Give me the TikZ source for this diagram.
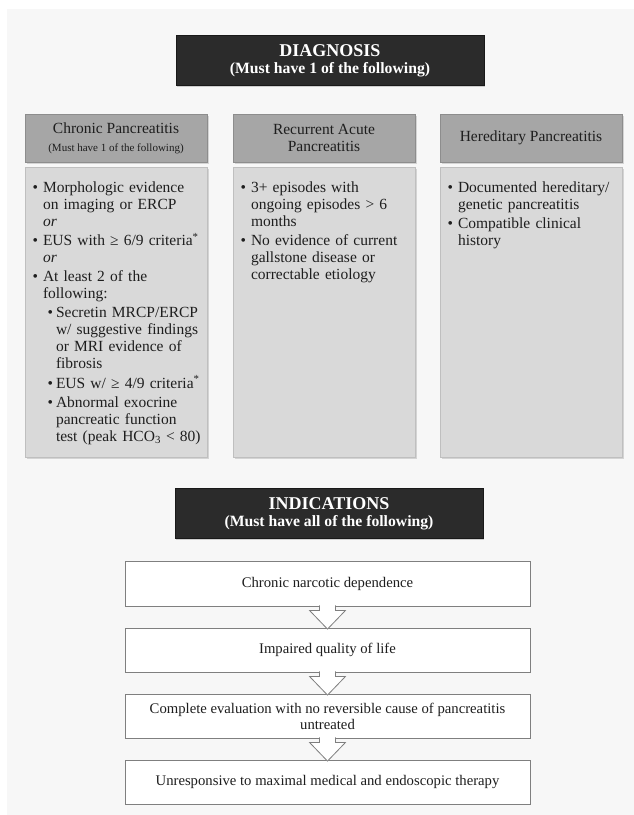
\documentclass[tikz,border=0pt]{standalone}
\usepackage{fontspec}
\setmainfont{Liberation Serif}
\usepackage{enumitem}
\usetikzlibrary{positioning, calc, shadows}

\definecolor{pagebg}{HTML}{F7F7F7}
\definecolor{bannerfill}{HTML}{2B2B2B}
\definecolor{headfill}{HTML}{A6A6A6}
\definecolor{bodyfill}{HTML}{D9D9D9}
\definecolor{boxline}{HTML}{7F7F7F}
\definecolor{inktext}{HTML}{1E1E1E}

\setlist[itemize,1]{label=\textbullet, leftmargin=12pt, labelsep=5pt, nosep, itemsep=2.4pt}
\setlist[itemize,2]{label=\textbullet, leftmargin=13pt, labelsep=3pt, nosep, topsep=2pt, itemsep=2.4pt}

\begin{document}
\begin{tikzpicture}[
  x=1pt, y=-1pt,
  font=\fontsize{15.5}{17}\selectfont, text=inktext,
  banner/.style={fill=bannerfill, draw=black!90, text=white, align=center, inner sep=0pt, minimum width=308pt, minimum height=50pt, drop shadow={shadow xshift=1.2pt, shadow yshift=-1.2pt, fill=black!35}},
  colhead/.style={fill=headfill, draw=headfill!85!black, line width=0.4pt, align=center, inner sep=0pt, minimum width=182pt, minimum height=48pt, drop shadow={shadow xshift=1.5pt, shadow yshift=-1.5pt, fill=black!30}},
  colbody/.style={fill=bodyfill, draw=bodyfill!88!black, line width=0.4pt, inner sep=0pt, minimum width=182pt, minimum height=290pt, drop shadow={shadow xshift=1.5pt, shadow yshift=-1.5pt, fill=black!30}},
  bullets/.style={anchor=north west, inner sep=0pt, text width=172pt, align=left},
  critbox/.style={fill=white, draw=boxline, line width=0.8pt, align=center, inner sep=0pt, minimum width=405pt, minimum height=44pt, font=\fontsize{14.7}{16}\selectfont, drop shadow={shadow xshift=1.2pt, shadow yshift=-1.2pt, fill=black!25}},
  downarrow/.style={fill=white, draw=boxline, line width=0.8pt, line join=miter}]

\useasboundingbox (0,0) rectangle (634,815);
\fill[white] (0,0) rectangle (634,815);
\fill[pagebg] (7,9) rectangle (634,815);

% ---------- diagnosis banner
\node[banner] (diag) at (330,60.5)
  {{\fontsize{18}{21}\selectfont\bfseries DIAGNOSIS}\\{\fontsize{15.7}{18}\selectfont\bfseries (Must have 1 of the following)}};

% ---------- column headers
\node[colhead] (cphead) at (116,138)
  {Chronic Pancreatitis\\[1pt]{\fontsize{11}{12}\selectfont (Must have 1 of the following)}};
\node[colhead] (raphead) at (324,138) {\fontsize{15.5}{16}\selectfont Recurrent Acute\\Pancreatitis};
\node[colhead] (hphead) at (531,138) {Hereditary Pancreatitis};

% ---------- column bodies
\node[colbody] (cpbody)  at (116,312) {};
\node[colbody] (rapbody) at (324,312) {};
\node[colbody] (hpbody)  at (531,312) {};

\node[bullets] (cptext) at ($(cpbody.north west)+(6,8)$) {%
  \begin{itemize}
    \item Morphologic evidence\\on imaging or ERCP\\\textit{or}
    \item EUS with ≥ 6/9 criteria\textsuperscript{*}\\\textit{or}
    \item At least 2 of the\\following:
      \begin{itemize}
        \item Secretin MRCP/ERCP\\w/ suggestive findings\\or MRI evidence of\\fibrosis
        \item EUS w/ ≥ 4/9 criteria\textsuperscript{*}
        \item Abnormal exocrine\\pancreatic function\\test (peak HCO\textsubscript{3} < 80)
      \end{itemize}
  \end{itemize}};
\node[bullets] (raptext) at ($(rapbody.north west)+(6,8)$) {%
  \begin{itemize}
    \item 3+ episodes with\\ongoing episodes > 6\\months
    \item No evidence of current\\gallstone disease or\\correctable etiology
  \end{itemize}};
\node[bullets] (hptext) at ($(hpbody.north west)+(6,8)$) {%
  \begin{itemize}
    \item Documented hereditary/\\genetic pancreatitis
    \item Compatible clinical\\history
  \end{itemize}};

% ---------- indications banner
\node[banner] (indic) at (329,513.5)
  {{\fontsize{18}{21}\selectfont\bfseries INDICATIONS}\\{\fontsize{15.7}{18}\selectfont\bfseries (Must have all of the following)}};

% ---------- indication chain
\node[critbox, minimum height=45pt] (narc) at (327.5,583.5) {Chronic narcotic dependence};
\node[critbox] (qol)   at (327.5,650) {Impaired quality of life};
\node[critbox] (evalc) at (327.5,716) {Complete evaluation with no reversible cause of pancreatitis\\untreated};
\node[critbox] (unres) at (327.5,782) {Unresponsive to maximal medical and endoscopic therapy};

% ---------- hollow arrows between the boxes
\foreach \from/\to in {narc/qol, qol/evalc, evalc/unres}
  \draw[downarrow] ($(\from.south)+(-8,-1)$) -- ++(0,5) -- ++(-10,0)
    -- ($(\to.north)+(0,1.5)$) -- ($(\from.south)+(18,4)$) -- ++(-10,0) -- ++(0,-5);
\end{tikzpicture}
\end{document}
